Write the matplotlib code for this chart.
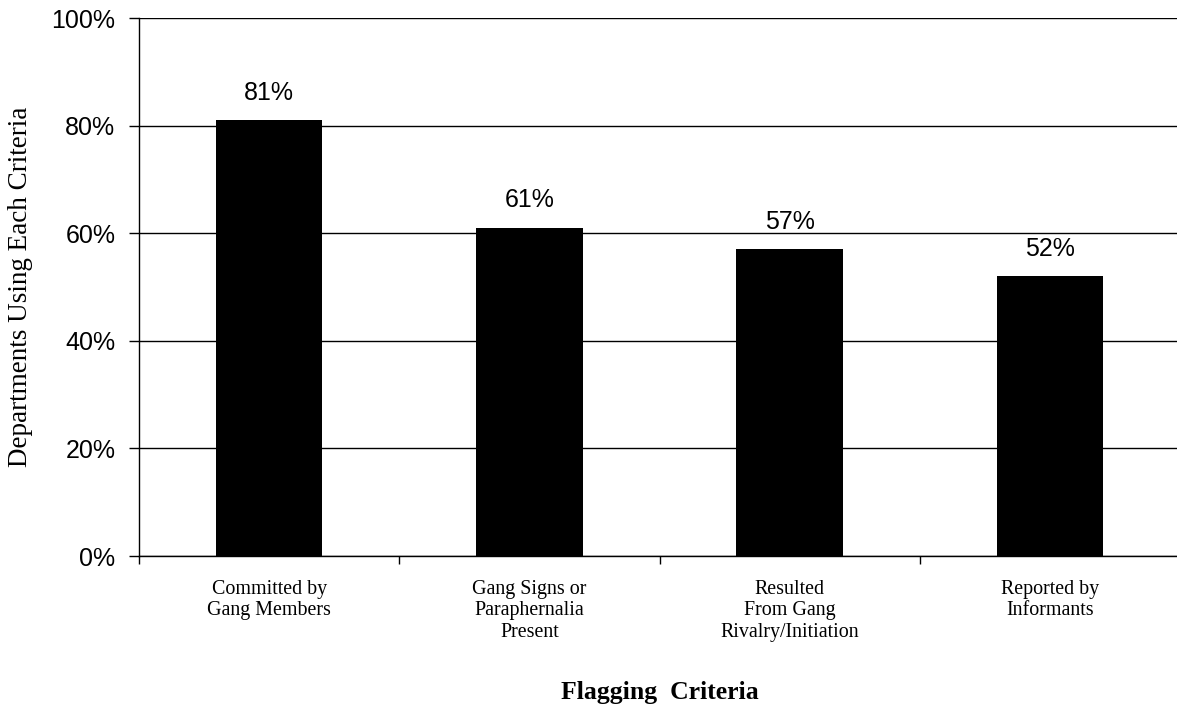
import matplotlib.pyplot as plt
import numpy as np

criteria = ["Committed by\nGang Members",
            "Gang Signs or\nParaphernalia\nPresent",
            "Resulted\nFrom Gang\nRivalry/Initiation",
            "Reported by\nInformants"]
pct = [81, 61, 57, 52]
yticks = [0, 20, 40, 60, 80, 100]

fig = plt.figure(figsize=(11.77, 7.17), dpi=100)
ax = fig.add_axes([0.1181, 0.2245, 0.8845, 0.7503])

x = np.arange(len(criteria)) + 0.5
ax.bar(x, pct, width=0.41, color="black", zorder=3)

for xi, v in zip(x, pct):
    ax.annotate(f"{v}%", (xi, v), xytext=(0, 20), textcoords="offset points",
                ha="center", va="center", fontsize=18, family="Liberation Sans")

ax.set_xlim(0, 4)
ax.set_ylim(0, 100)
ax.set_yticks(yticks)
ax.set_yticklabels([f"{t}%" for t in yticks], fontsize=18, family="Liberation Sans")
ax.yaxis.grid(True, color="black", linewidth=1)
ax.set_axisbelow(True)

# category boundaries get the tick marks, labels sit under the bars
ax.set_xticks(np.arange(0, 5))
ax.set_xticklabels([])
ax.set_xticks(x, minor=True)
ax.set_xticklabels(criteria, minor=True, fontsize=14.4, family="Liberation Serif",
                   linespacing=1.2)
ax.tick_params(axis="x", which="minor", length=0, pad=17)
ax.tick_params(axis="x", which="major", length=6, direction="out", width=1)
ax.tick_params(axis="y", length=7, width=1, direction="out", pad=10)

for s in ("top", "right"):
    ax.spines[s].set_visible(False)
for s in ("left", "bottom"):
    ax.spines[s].set_linewidth(1)

ax.set_ylabel("Departments Using Each Criteria", fontsize=19.5,
              family="Liberation Serif", labelpad=13)
fig.text(0.561, 0.034, "Flagging  Criteria", ha="center", va="center",
         fontsize=18.5, fontweight="bold", family="Liberation Serif")

fig.savefig("out.png", dpi=100)
